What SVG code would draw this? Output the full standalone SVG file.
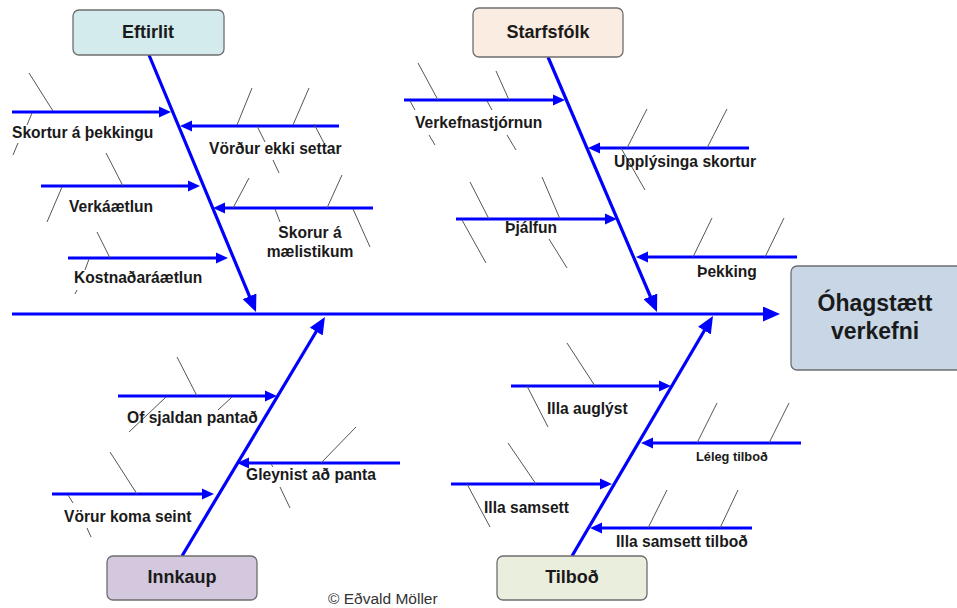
<svg xmlns="http://www.w3.org/2000/svg" width="957" height="608" viewBox="0 0 957 608">
<style>
.box{stroke:#6e6e6e;stroke-width:1.3}
.cat{font-family:"Liberation Sans",Arial,sans-serif;font-weight:bold;font-size:18px;fill:#1a1a1a;text-anchor:middle}
.lbl{font-family:"Liberation Sans",Arial,sans-serif;font-weight:bold;font-size:15.6px;fill:#1a1a1a}
.bone{stroke:#0000ff;stroke-width:3.2;fill:none}
.sub{stroke:#0000ff;stroke-width:3;fill:none}
.tick{stroke:#555;stroke-width:1;fill:none}
</style>
<defs>
<marker id="ah" markerUnits="userSpaceOnUse" markerWidth="12" markerHeight="12" refX="3" refY="6" orient="auto">
<path d="M0,0.5 L12,6 L0,11.5 z" fill="#0000ff"/>
</marker>
<marker id="ahBig" markerUnits="userSpaceOnUse" markerWidth="17" markerHeight="15" refX="5" refY="7.5" orient="auto">
<path d="M0,0 L17,7.5 L0,15 z" fill="#0000ff"/>
</marker>
</defs>

<g id="connectors">
<line class="bone" x1="12" y1="314" x2="768" y2="314" marker-end="url(#ahBig)"/>
<line class="bone" x1="149" y1="55" x2="251.4" y2="300.9" marker-end="url(#ahBig)"/>
<line class="bone" x1="548" y1="57" x2="652.3" y2="301" marker-end="url(#ahBig)"/>
<line class="bone" x1="182" y1="556" x2="318.8" y2="327.3" marker-end="url(#ahBig)"/>
<line class="bone" x1="572" y1="556" x2="706.9" y2="326.3" marker-end="url(#ahBig)"/>

<line class="sub" x1="12" y1="112" x2="162" y2="112" marker-end="url(#ah)"/>
<line class="sub" x1="339" y1="126" x2="189" y2="126" marker-end="url(#ah)"/>
<line class="sub" x1="41" y1="186" x2="191" y2="186" marker-end="url(#ah)"/>
<line class="sub" x1="373" y1="208" x2="222" y2="208" marker-end="url(#ah)"/>
<line class="sub" x1="68" y1="258" x2="219" y2="258" marker-end="url(#ah)"/>

<line class="sub" x1="404" y1="100" x2="556" y2="100" marker-end="url(#ah)"/>
<line class="sub" x1="749" y1="148" x2="597" y2="148" marker-end="url(#ah)"/>
<line class="sub" x1="456" y1="219" x2="608" y2="219" marker-end="url(#ah)"/>
<line class="sub" x1="797" y1="257" x2="645" y2="257" marker-end="url(#ah)"/>

<line class="sub" x1="118" y1="396" x2="268" y2="396" marker-end="url(#ah)"/>
<line class="sub" x1="400" y1="463" x2="246" y2="463" marker-end="url(#ah)"/>
<line class="sub" x1="52" y1="494" x2="205" y2="494" marker-end="url(#ah)"/>

<line class="sub" x1="511" y1="386" x2="662" y2="386" marker-end="url(#ah)"/>
<line class="sub" x1="801" y1="443" x2="650" y2="443" marker-end="url(#ah)"/>
<line class="sub" x1="451" y1="484" x2="603" y2="484" marker-end="url(#ah)"/>
<line class="sub" x1="752" y1="528" x2="599" y2="528" marker-end="url(#ah)"/>
</g>

<g id="ticks">
<line class="tick" x1="29" y1="73" x2="53" y2="111"/>
<line class="tick" x1="32" y1="113" x2="27" y2="125"/>
<line class="tick" x1="18" y1="143" x2="13" y2="155"/>
<line class="tick" x1="106" y1="153" x2="123" y2="186"/>
<line class="tick" x1="252" y1="88" x2="237" y2="125"/>
<line class="tick" x1="309" y1="88" x2="293" y2="125"/>
<line class="tick" x1="257" y1="126" x2="265" y2="142"/>
<line class="tick" x1="273" y1="160" x2="279" y2="173"/>
<line class="tick" x1="314" y1="124" x2="324" y2="143"/>
<line class="tick" x1="62" y1="187" x2="47" y2="222"/>
<line class="tick" x1="249" y1="178" x2="233" y2="208"/>
<line class="tick" x1="342" y1="175" x2="327" y2="208"/>
<line class="tick" x1="275" y1="209" x2="280" y2="222"/>
<line class="tick" x1="353" y1="209" x2="370" y2="247"/>
<line class="tick" x1="97" y1="232" x2="110" y2="258"/>
<line class="tick" x1="89" y1="259" x2="85" y2="270"/>
<line class="tick" x1="77" y1="290" x2="75" y2="294"/>

<line class="tick" x1="418" y1="63" x2="438" y2="100"/>
<line class="tick" x1="496" y1="71" x2="509" y2="100"/>
<line class="tick" x1="410" y1="101" x2="415" y2="110"/>
<line class="tick" x1="429" y1="135" x2="435" y2="145"/>
<line class="tick" x1="487" y1="101" x2="492" y2="110"/>
<line class="tick" x1="507" y1="135" x2="516" y2="150"/>
<line class="tick" x1="647" y1="109" x2="627" y2="148"/>
<line class="tick" x1="727" y1="109" x2="707" y2="148"/>
<line class="tick" x1="621" y1="148" x2="645" y2="190"/>
<line class="tick" x1="470" y1="182" x2="489" y2="219"/>
<line class="tick" x1="542" y1="177" x2="560" y2="219"/>
<line class="tick" x1="462" y1="220" x2="486" y2="263"/>
<line class="tick" x1="549" y1="239" x2="567" y2="268"/>
<line class="tick" x1="712" y1="218" x2="693" y2="257"/>
<line class="tick" x1="784" y1="218" x2="765" y2="257"/>

<line class="tick" x1="177" y1="357" x2="197" y2="396"/>
<line class="tick" x1="166" y1="397" x2="129" y2="432"/>
<line class="tick" x1="232" y1="397" x2="218" y2="410"/>
<line class="tick" x1="356" y1="427" x2="321" y2="463"/>
<line class="tick" x1="110" y1="452" x2="137" y2="494"/>
<line class="tick" x1="271" y1="464" x2="273" y2="467"/>
<line class="tick" x1="280" y1="487" x2="290" y2="508"/>
<line class="tick" x1="68" y1="495" x2="73" y2="503"/>
<line class="tick" x1="87" y1="528" x2="91" y2="537"/>

<line class="tick" x1="567" y1="343" x2="595" y2="386"/>
<line class="tick" x1="527" y1="386" x2="548" y2="427"/>
<line class="tick" x1="717" y1="403" x2="697" y2="443"/>
<line class="tick" x1="789" y1="403" x2="769" y2="443"/>
<line class="tick" x1="508" y1="443" x2="536" y2="484"/>
<line class="tick" x1="467" y1="484" x2="490" y2="527"/>
<line class="tick" x1="667" y1="490" x2="648" y2="528"/>
<line class="tick" x1="738" y1="490" x2="720" y2="528"/>
</g>

<g id="eftirlit">
<rect class="box" x="73" y="10" width="151" height="45" rx="6" fill="#d4ebee"/>
<text class="cat" x="148" y="38">Eftirlit</text>
</g>
<g id="starfsfolk">
<rect class="box" x="473" y="8" width="150" height="49" rx="6" fill="#fbece2"/>
<text class="cat" x="548" y="38">Starfsfólk</text>
</g>
<g id="innkaup">
<rect class="box" x="107" y="556" width="150" height="44" rx="6" fill="#d3c8de"/>
<text class="cat" x="182" y="583">Innkaup</text>
</g>
<g id="tilbod">
<rect class="box" x="497" y="556" width="150" height="44" rx="6" fill="#eaeedd"/>
<text class="cat" x="572" y="583">Tilboð</text>
</g>
<g id="ohagstaett">
<rect class="box" x="791" y="266" width="180" height="104" rx="6" fill="#c8d6e6"/>
<text class="cat" x="875" y="311" style="font-size:23px">Óhagstætt</text>
<text class="cat" x="875" y="339" style="font-size:23px">verkefni</text>
</g>

<g id="labels">
<text class="lbl" x="12" y="138">Skortur á þekkingu</text>
<text class="lbl" x="209" y="154">Vörður ekki settar</text>
<text class="lbl" x="69" y="212">Verkáætlun</text>
<text class="lbl" x="310" y="238" text-anchor="middle">Skorur á</text>
<text class="lbl" x="310" y="257" text-anchor="middle">mælistikum</text>
<text class="lbl" x="74" y="283">Kostnaðaráætlun</text>
<text class="lbl" x="415" y="128">Verkefnastjórnun</text>
<text class="lbl" x="614" y="167">Upplýsinga skortur</text>
<text class="lbl" x="505" y="233">Þjálfun</text>
<text class="lbl" x="697" y="277">Þekking</text>
<text class="lbl" x="127" y="423">Of sjaldan pantað</text>
<text class="lbl" x="246" y="480">Gleynist að panta</text>
<text class="lbl" x="64" y="522">Vörur koma seint</text>
<text class="lbl" x="547" y="414">Illa auglýst</text>
<text class="lbl" x="696" y="461" style="font-size:12.8px">Léleg tilboð</text>
<text class="lbl" x="484" y="513">Illa samsett</text>
<text class="lbl" x="616" y="547">Illa samsett tilboð</text>
<text x="328" y="604" style="font-family:'Liberation Sans',Arial,sans-serif;font-size:15.5px;fill:#333">© Eðvald Möller</text>
</g>
</svg>
